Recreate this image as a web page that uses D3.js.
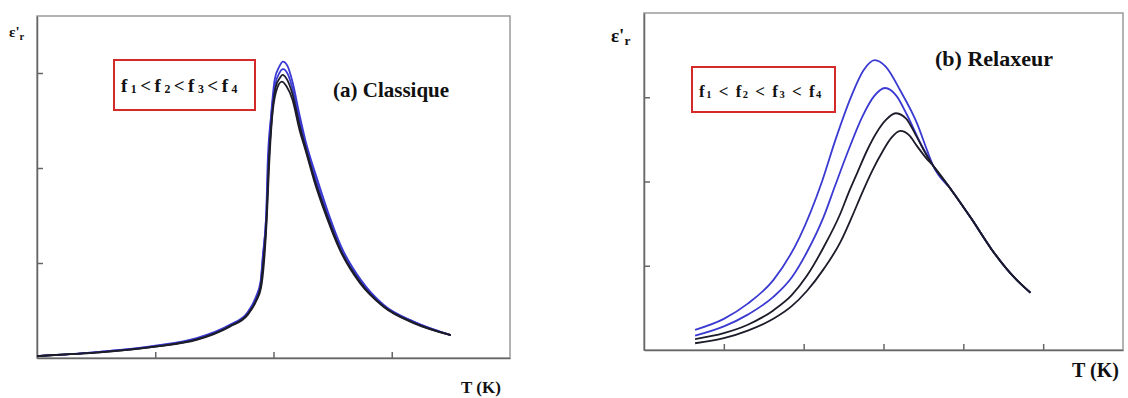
<!DOCTYPE html>
<html lang="fr">
<head>
<meta charset="UTF-8">
<title>Classique vs Relaxeur</title>
<script src="https://d3js.org/d3.v7.min.js"></script>
<style>
    body { margin: 0; background: #fff; }
</style>
</head>
<body>
<svg id="chart" width="1128" height="398"></svg>
<script>
    // (a) Classique - four frequencies, [T, eps'r] in tick units
    const classicF1 = [[0,0.02],[0.28,0.04],[0.53,0.065],[1.00,0.13],[1.35,0.21],[1.63,0.35],[1.78,0.48],[1.85,0.64],[1.89,0.80],[1.91,1.08],[1.94,1.56],[1.95,2.03],[1.98,2.56],[2.01,2.93],[2.05,3.07],[2.08,3.12],[2.12,3.07],[2.16,2.91],[2.22,2.56],[2.27,2.29],[2.36,1.92],[2.46,1.54],[2.57,1.18],[2.74,0.82],[2.93,0.56],[3.19,0.38],[3.50,0.24]];
    const classicF2 = [[0,0.02],[0.28,0.04],[0.53,0.065],[1.00,0.125],[1.35,0.20],[1.63,0.34],[1.78,0.47],[1.85,0.62],[1.89,0.77],[1.91,1.05],[1.94,1.53],[1.955,2.02],[1.98,2.53],[2.015,2.88],[2.05,3.00],[2.08,3.04],[2.12,2.99],[2.16,2.84],[2.22,2.50],[2.27,2.25],[2.355,1.89],[2.455,1.52],[2.565,1.16],[2.735,0.81],[2.93,0.55],[3.185,0.38],[3.50,0.24]];
    const classicF3 = [[0,0.02],[0.28,0.04],[0.53,0.06],[1.00,0.12],[1.35,0.195],[1.63,0.335],[1.78,0.46],[1.85,0.60],[1.89,0.75],[1.915,1.03],[1.943,1.52],[1.958,2.01],[1.985,2.52],[2.018,2.85],[2.055,2.95],[2.075,2.98],[2.115,2.93],[2.16,2.78],[2.22,2.45],[2.27,2.22],[2.352,1.86],[2.452,1.50],[2.562,1.15],[2.732,0.80],[2.93,0.545],[3.18,0.375],[3.50,0.24]];
    const classicF4 = [[0,0.02],[0.28,0.04],[0.53,0.06],[1.00,0.12],[1.35,0.19],[1.63,0.33],[1.78,0.45],[1.85,0.59],[1.895,0.74],[1.92,1.01],[1.945,1.51],[1.962,2.00],[1.987,2.51],[2.021,2.80],[2.07,2.91],[2.11,2.86],[2.16,2.72],[2.22,2.40],[2.27,2.19],[2.35,1.84],[2.45,1.48],[2.56,1.14],[2.73,0.79],[2.93,0.54],[3.18,0.37],[3.50,0.24]];

    // (b) Relaxeur - four frequencies
    const relaxF1 = [[0.64,0.24],[1.00,0.37],[1.30,0.55],[1.62,0.83],[1.95,1.34],[2.23,2.00],[2.40,2.50],[2.60,3.02],[2.75,3.32],[2.89,3.44],[3.03,3.36],[3.21,3.08],[3.42,2.69],[3.55,2.36],[3.62,2.19],[3.85,1.90],[4.10,1.56],[4.35,1.20],[4.60,0.90],[4.84,0.68]];
    const relaxF2 = [[0.64,0.17],[1.00,0.28],[1.30,0.42],[1.62,0.63],[1.85,0.86],[2.04,1.16],[2.25,1.58],[2.39,1.94],[2.54,2.32],[2.74,2.78],[2.88,3.01],[3.02,3.11],[3.16,3.02],[3.30,2.78],[3.46,2.46],[3.62,2.19],[3.85,1.90],[4.10,1.56],[4.35,1.20],[4.60,0.90],[4.84,0.68]];
    const relaxF3 = [[0.64,0.13],[1.00,0.20],[1.30,0.30],[1.62,0.47],[1.85,0.65],[2.04,0.88],[2.25,1.22],[2.46,1.62],[2.56,1.86],[2.67,2.10],[2.80,2.38],[2.92,2.59],[3.03,2.73],[3.15,2.81],[3.28,2.75],[3.40,2.56],[3.50,2.38],[3.62,2.19],[3.85,1.90],[4.10,1.56],[4.35,1.20],[4.60,0.90],[4.84,0.68]];
    const relaxF4 = [[0.64,0.08],[1.00,0.14],[1.30,0.23],[1.62,0.37],[1.85,0.52],[2.04,0.70],[2.25,0.96],[2.46,1.28],[2.60,1.57],[2.73,1.86],[2.86,2.13],[2.99,2.36],[3.10,2.52],[3.21,2.60],[3.32,2.55],[3.42,2.42],[3.55,2.26],[3.62,2.19],[3.85,1.90],[4.10,1.56],[4.35,1.20],[4.60,0.90],[4.84,0.68]];

    const classicXTicks = [1, 2, 3];
    const classicYTicks = [1, 2, 3];
    const relaxXTicks = [1, 2, 3, 4, 5];
    const relaxYTicks = [1, 2, 3];
    const seriesColors = ["#3a3ad2", "#3a3ad2", "#1c1c2a", "#1c1c2a"];

    const serif = "'Liberation Serif', 'DejaVu Serif', serif";
    const svg = d3.select("#chart");

    function label(g, x, y, size) {
        return g.append("text")
            .attr("x", x).attr("y", y)
            .attr("font-family", serif)
            .attr("font-weight", "bold")
            .attr("font-size", size)
            .attr("fill", "#111");
    }

    function drawPanel(p) {
        const x = d3.scaleLinear().domain(p.xDomain).range([p.left, p.right]);
        const y = d3.scaleLinear().domain(p.yDomain).range([p.bottom, p.top]);
        const g = svg.append("g");

        // frame
        g.append("rect")
            .attr("x", p.left).attr("y", p.top)
            .attr("width", p.right - p.left).attr("height", p.bottom - p.top)
            .attr("fill", "none").attr("stroke", "#9a9a9a").attr("stroke-width", 1.5);

        g.append("g")
            .attr("transform", `translate(${p.left},0)`)
            .call(d3.axisLeft(y).tickValues(p.yTicks).tickSize(-6).tickSizeOuter(0).tickFormat(""))
            .call(s => s.selectAll("path, line").attr("stroke", "#666").attr("stroke-width", 1.5));

        g.append("g")
            .attr("transform", `translate(0,${p.bottom})`)
            .call(d3.axisBottom(x).tickValues(p.xTicks).tickSize(-6).tickSizeOuter(0).tickFormat(""))
            .call(s => s.selectAll("path, line").attr("stroke", "#666").attr("stroke-width", 1.5));

        const line = d3.line()
            .x(d => x(d[0]))
            .y(d => y(d[1]))
            .curve(d3.curveMonotoneX);

        g.selectAll("path.curve")
            .data(p.series)
            .enter().append("path")
            .attr("class", "curve")
            .attr("d", line)
            .attr("fill", "none")
            .attr("stroke", (d, i) => seriesColors[i])
            .attr("stroke-width", 1.8)
            .attr("stroke-linejoin", "round");

        // legend box
        g.append("rect")
            .attr("x", p.box[0]).attr("y", p.box[1])
            .attr("width", p.box[2]).attr("height", p.box[3])
            .attr("fill", "none").attr("stroke", "#d42a2a").attr("stroke-width", 2);

        const lt = label(g, p.box[0] + 7, p.box[1] + p.box[3] / 2 + 7, p.legendSize)
            .attr("letter-spacing", p.legendSpacing);
        [1, 2, 3, 4].forEach((n, i) => {
            lt.append("tspan").text("f");
            lt.append("tspan").attr("font-size", p.legendSize * 0.62).attr("dy", 1).text(n);
            lt.append("tspan").attr("dy", -1).text(i < 3 ? p.sep : "");
        });

        label(g, p.title[0], p.title[1], p.titleSize).text(p.titleText);

        const yl = label(g, p.yLabel[0], p.yLabel[1], p.yLabelSize);
        yl.append("tspan").text("ε'");
        yl.append("tspan").attr("font-size", p.yLabelSize * 0.7).attr("dy", 3).text("r");

        label(g, p.xLabel[0], p.xLabel[1], p.xLabelSize).text("T (K)");
    }

    drawPanel({
        left: 37, right: 510, top: 16, bottom: 358,
        xDomain: [0, 4], yDomain: [0, 3.6],
        xTicks: classicXTicks, yTicks: classicYTicks,
        series: [classicF1, classicF2, classicF3, classicF4],
        box: [114, 60, 141, 50], legendSize: 19, legendSpacing: 3.5, sep: "<",
        title: [333, 97], titleSize: 21, titleText: "(a) Classique",
        yLabel: [9, 37], yLabelSize: 15,
        xLabel: [461, 393], xLabelSize: 17
    });

    drawPanel({
        left: 644, right: 1123, top: 13, bottom: 350,
        xDomain: [0, 6], yDomain: [0, 4],
        xTicks: relaxXTicks, yTicks: relaxYTicks,
        series: [relaxF1, relaxF2, relaxF3, relaxF4],
        box: [692, 67, 143, 45], legendSize: 17, legendSpacing: 1.5, sep: " < ",
        title: [935, 66], titleSize: 22, titleText: "(b) Relaxeur",
        yLabel: [611, 42], yLabelSize: 19,
        xLabel: [1072, 377], xLabelSize: 20
    });
</script>
</body>
</html>
